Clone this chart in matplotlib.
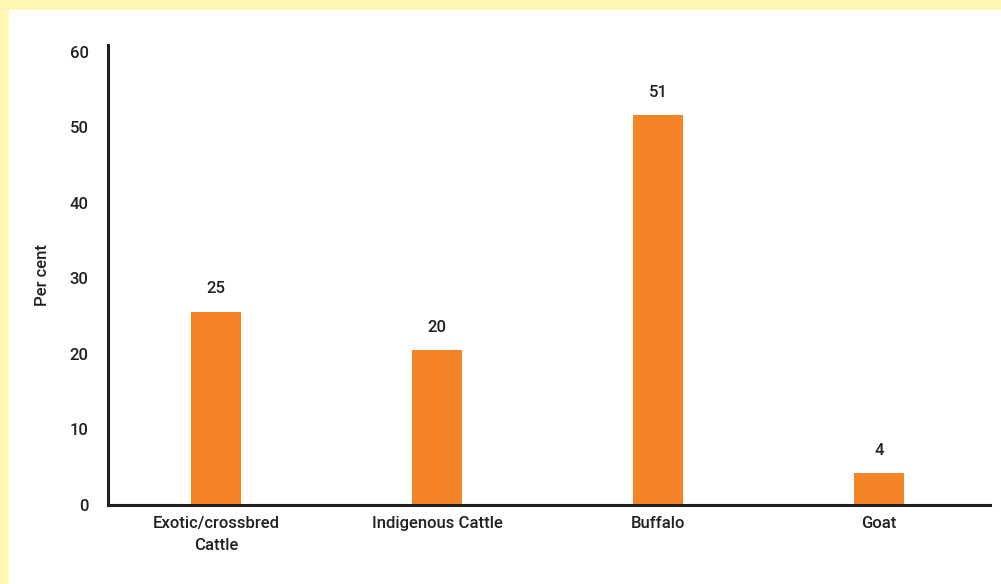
import matplotlib.pyplot as plt
import numpy as np

categories = ['Exotic/crossbred\nCattle', 'Indigenous Cattle', 'Buffalo', 'Goat']
values = [25.6, 20.5, 51.6, 4.2]
value_labels = ['25', '20', '51', '4']
yticks = [0, 10, 20, 30, 40, 50, 60]

plt.rcParams['font.family'] = ['Roboto', 'DejaVu Sans']
text_col = '#231f20'
fs = 12

fig = plt.figure(figsize=(10.01, 5.84), dpi=100, facecolor='#fff7b3')
# white panel inside the yellow border
fig.patches.append(plt.Rectangle((9 / 1001, 0), 1, 1 - 10 / 584, transform=fig.transFigure,
                                 facecolor='white', edgecolor='none', zorder=-10))

ax = fig.add_axes([108 / 1001, 79 / 584, 882 / 1001, 460 / 584])
ax.set_facecolor('none')
x = np.arange(len(categories))
bars = ax.bar(x, values, width=0.23, color='#f58426', zorder=2)

for xi, v, lab in zip(x, values, value_labels):
    ax.annotate(lab, (xi, v), xytext=(0, 11), textcoords='offset points',
                ha='center', va='bottom', fontsize=fs, color=text_col, fontweight='medium')

ax.set_xlim(-0.489, 3.502)
ax.set_ylim(0, 60.9)
ax.set_yticks(yticks)
ax.set_xticks(x)
ax.set_xticklabels(categories, fontsize=fs, color=text_col, fontweight='medium', linespacing=1.55)
ax.tick_params(axis='y', length=0, pad=14, labelsize=fs, labelcolor=text_col)
ax.tick_params(axis='x', length=0, pad=8)
for lab in ax.get_yticklabels():
    lab.set_fontweight('medium')

for s in ['top', 'right']:
    ax.spines[s].set_visible(False)
for s in ['left', 'bottom']:
    ax.spines[s].set_linewidth(2.2)
    ax.spines[s].set_color(text_col)

ax.set_ylabel('Per cent', fontsize=fs, color=text_col, labelpad=14, fontweight='medium')

fig.savefig('out.png', dpi=100, facecolor=fig.get_facecolor())
